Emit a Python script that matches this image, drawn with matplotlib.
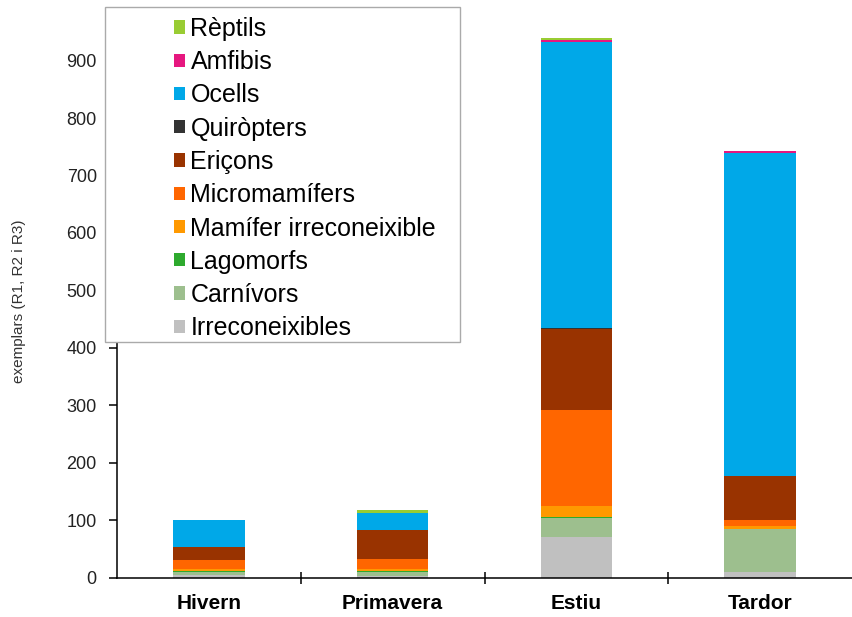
import matplotlib
matplotlib.use("Agg")
import matplotlib.pyplot as plt
from matplotlib.patches import Rectangle
import numpy as np

plt.rcParams["font.family"] = ["Liberation Sans", "DejaVu Sans"]

SEASONS = ["Hivern", "Primavera", "Estiu", "Tardor"]

# groups in stacking order, bottom to top
GROUPS = ["Irreconeixibles", "Carnívors", "Lagomorfs", "Mamífer irreconeixible",
          "Micromamífers", "Eriçons", "Quiròpters", "Ocells", "Amfibis", "Rèptils"]
COLORS = ["#C0C0C0", "#9DBF8E", "#2EAA2E", "#FF9900",
          "#FF6600", "#993300", "#333333", "#00A8E8", "#E6177F", "#99CC33"]

irreconeixibles = [4, 2, 71, 10]
carnivors = [5, 7, 32, 74]
lagomorfs = [2, 3, 3, 0]
mamifer_irr = [3, 3, 18, 6]
micromamifers = [16, 17, 167, 10]
ericons = [23, 50, 142, 77]
quiropters = [0, 0, 2, 0]
ocells = [48, 30, 497, 562]
amfibis = [0, 0, 4, 3]
reptils = [0, 6, 4, 0]

series = [irreconeixibles, carnivors, lagomorfs, mamifer_irr, micromamifers,
          ericons, quiropters, ocells, amfibis, reptils]

W, H = 852, 617
fig = plt.figure(figsize=(W / 100, H / 100), dpi=100)
ax = fig.add_axes([117 / W, 1 - 577.5 / H, 1 - 117 / W, (577.5 - 9) / H])

x = np.arange(len(SEASONS))
bottom = np.zeros(len(SEASONS))
bars = []
for name, vals, col in zip(GROUPS, series, COLORS):
    b = ax.bar(x, vals, width=0.39, bottom=bottom, color=col, label=name, linewidth=0)
    bars.append(b)
    bottom += np.array(vals)

ax.set_xlim(-0.5, len(SEASONS) - 0.5)
ax.set_ylim(0, 990)
ax.set_yticks(range(0, 1000, 100))

# tick marks between seasons, labels centred on bars
ax.set_xticks(x[:-1] + 0.5)
ax.set_xticklabels([])
ax.set_xticks(x, minor=True)
ax.set_xticklabels(SEASONS, minor=True, fontsize=15, fontweight="bold")
ax.tick_params(axis="x", which="minor", length=0, pad=12)
ax.tick_params(axis="x", which="major", direction="inout", length=8, width=1.1)
ax.tick_params(axis="y", direction="out", length=5.5, width=1.1, pad=9,
               labelsize=13, labelcolor="#222222")

for side in ["top", "right"]:
    ax.spines[side].set_visible(False)
for side in ["left", "bottom"]:
    ax.spines[side].set_linewidth(1.1)

ax.set_ylabel("exemplars (R1, R2 i R3)", fontsize=11, color="#333333")
ax.yaxis.set_label_coords(-0.124, 0.486)

# legend frame drawn separately so the swatches can sit off-centre
fig.add_artist(Rectangle((105 / W, 1 - 342 / H), 355 / W, 335 / H,
                         transform=fig.transFigure, facecolor="white",
                         edgecolor="#aaaaaa", linewidth=1, zorder=1))
fig.legend(bars[::-1], GROUPS[::-1], loc="upper left",
           bbox_to_anchor=(174 / W, 1 - 17 / H), frameon=False,
           fontsize=18, handlelength=0.44, handleheight=0.44,
           handletextpad=0.22, labelspacing=0.37, borderpad=0, borderaxespad=0)

fig.savefig("out.png", dpi=100)
